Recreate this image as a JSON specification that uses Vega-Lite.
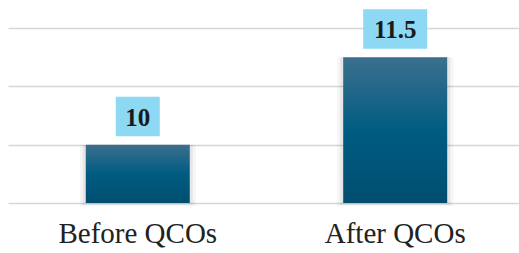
{
  "$schema": "https://vega.github.io/schema/vega-lite/v6.json",
  "autosize": "none",
  "width": 511,
  "height": 175,
  "padding": {"left": 8, "top": 28, "right": 0, "bottom": 50},
  "background": "white",
  "config": {"view": {"stroke": null}},
  "data": {"values": [
    {"stage": "Before QCOs", "value": 10, "label": "10"},
    {"stage": "After QCOs", "value": 11.5, "label": "11.5"}
  ]},
  "encoding": {
    "x": {"field": "stage", "type": "nominal", "sort": null,
      "scale": {"paddingInner": 0.595, "paddingOuter": 0.29, "align": 0.52},
      "axis": {"title": null, "ticks": false, "domain": false, "labelAngle": 0,
        "labelFont": "Liberation Serif", "labelFontSize": 29, "labelColor": "#222222",
        "labelPadding": 16}}
  },
  "layer": [
    {
      "mark": {"type": "bar", "width": 116, "color": "#000000", "opacity": 0.04, "y2Offset": 3},
      "encoding": {
        "y": {"field": "value", "type": "quantitative",
          "scale": {"domain": [9, 12], "nice": false, "zero": false},
          "axis": {"title": null, "labels": false, "ticks": false, "domain": false,
            "values": [9, 10, 11, 12], "gridColor": "#d6d6d6", "gridWidth": 1.7}},
        "y2": {"datum": 9}
      }
    },
    {
      "mark": {"type": "bar", "width": 110, "color": "#000000", "opacity": 0.06, "y2Offset": 2},
      "encoding": {
        "y": {"field": "value", "type": "quantitative"},
        "y2": {"datum": 9}
      }
    },
    {
      "mark": {"type": "bar", "width": 104,
        "color": {"gradient": "linear", "x1": 0, "y1": 0, "x2": 0, "y2": 1,
          "stops": [
            {"offset": 0, "color": "#3c6f8e"},
            {"offset": 0.5, "color": "#005c82"},
            {"offset": 1, "color": "#004e70"}
          ]}},
      "encoding": {
        "y": {"field": "value", "type": "quantitative"},
        "y2": {"datum": 9}
      }
    },
    {
      "mark": {"type": "bar", "color": "#8dd8f2", "yOffset": -48, "y2Offset": -8.5},
      "encoding": {
        "y": {"field": "value", "type": "quantitative"},
        "y2": {"field": "value"},
        "size": {"field": "value", "type": "quantitative",
          "scale": {"domain": [10, 11.5], "range": [44, 64], "zero": false}, "legend": null}
      }
    },
    {
      "mark": {"type": "text", "font": "Liberation Serif", "fontSize": 25, "fontWeight": "bold",
        "color": "#1a1a1a", "baseline": "middle", "dy": -27},
      "encoding": {
        "y": {"field": "value", "type": "quantitative"},
        "text": {"field": "label"}
      }
    }
  ]
}
